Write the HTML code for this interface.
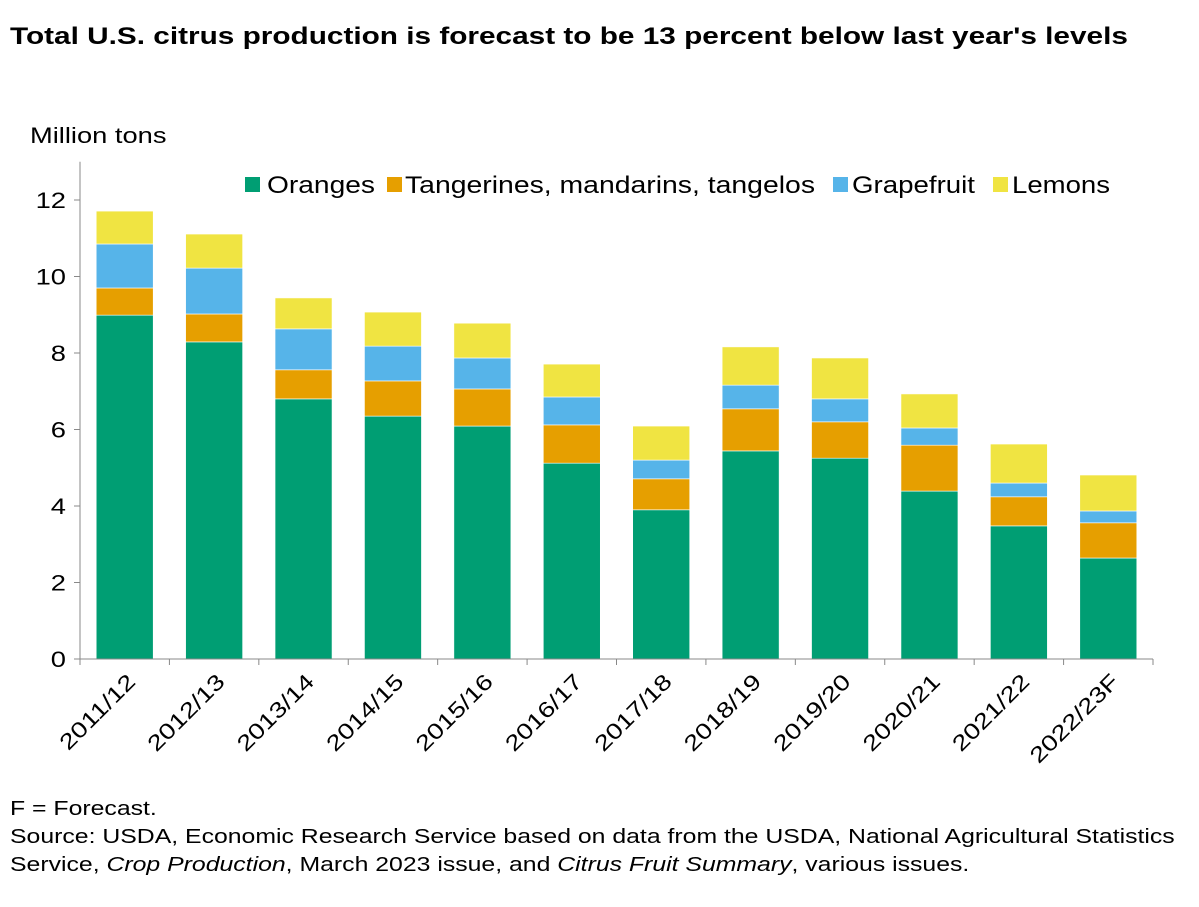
<!DOCTYPE html>
<html><head><meta charset="utf-8"><style>
body{margin:0;background:#fff;width:1199px;height:902px;overflow:hidden;font-family:"Liberation Sans",Arial,sans-serif}
svg text{font-family:"Liberation Sans",Arial,sans-serif}
</style></head><body>
<svg id="chart" width="1199" height="902">
<text class="st" x="10" y="44" font-size="24" font-weight="bold" fill="#000">Total U.S. citrus production is forecast to be 13 percent below last year's levels</text>
<text class="st" x="30" y="143" font-size="22" fill="#000">Million tons</text>
<g id="plot"></g>
<g id="legend"></g>
<text class="st" x="10" y="815" font-size="20">F = Forecast.</text>
<text class="st" x="10" y="843" font-size="20">Source: USDA, Economic Research Service based on data from the USDA, National Agricultural Statistics</text>
<text class="st" x="10" y="871" font-size="20">Service, <tspan font-style="italic">Crop Production</tspan>, March 2023 issue, and <tspan font-style="italic">Citrus Fruit Summary</tspan>, various issues.</text>
</svg>
<script>
const categories=["2011/12","2012/13","2013/14","2014/15","2015/16","2016/17","2017/18","2018/19","2019/20","2020/21","2021/22","2022/23F"];
const oranges=[8.99,8.29,6.80,6.35,6.09,5.12,3.90,5.44,5.25,4.39,3.48,2.64];
const tangerines=[0.71,0.73,0.76,0.92,0.97,1.00,0.81,1.10,0.95,1.20,0.76,0.92];
const grapefruit=[1.15,1.20,1.07,0.91,0.81,0.73,0.49,0.62,0.60,0.45,0.36,0.31];
const lemons=[0.86,0.89,0.81,0.89,0.91,0.86,0.89,1.00,1.07,0.89,1.02,0.94];
const yTicks=[0,2,4,6,8,10,12];
const seriesNames=["Oranges","Tangerines, mandarins, tangelos","Grapefruit","Lemons"];
const seriesColors=["#009e73","#e69f00","#56b4e9","#f0e442"];
const series=[oranges,tangerines,grapefruit,lemons];
const NS="http://www.w3.org/2000/svg";
const X0=80,X1=1153,Y0=659,PPU=38.25;
const step=(X1-X0)/categories.length;
const y=v=>Y0-v*PPU;
const xc=i=>X0+step*(i+0.5);
const plot=document.getElementById('plot');
function mk(tag,attrs,parent){const e=document.createElementNS(NS,tag);for(const k in attrs)e.setAttribute(k,attrs[k]);(parent||plot).appendChild(e);return e;}
yTicks.forEach(t=>{
 const tk=mk('line',{x1:X0-6,x2:X0,y1:y(t),y2:y(t),stroke:'#888'});
 
 
 const tx=mk('text',{x:X0-14,y:y(t)+8,'text-anchor':'end','font-size':22,'class':'st'});
 tx.textContent=t;
 
 
});
const bw=57;
categories.forEach((c,i)=>{
 let base=0;
 series.forEach((s,j)=>{
  const r=mk('rect',{x:xc(i)-bw/2,y:y(base+s[i]),width:bw,height:s[i]*PPU,fill:seriesColors[j],stroke:'#fff','stroke-width':0.6});
  
  
  base+=s[i];
 });
 const tk=mk('line',{x1:X0+step*i,x2:X0+step*i,y1:Y0,y2:Y0+6,stroke:'#888'});
 
 
 const tx=mk('text',{x:xc(i)+12,y:Y0+24,'text-anchor':'end','font-size':22,'class':'st',transform:`rotate(-45 ${xc(i)+12} ${Y0+24})`});
 tx.textContent=c;
 
 
});
const tkl=mk('line',{x1:X1,x2:X1,y1:Y0,y2:Y0+6,stroke:'#888'});


const ya=mk('line',{x1:X0,x2:X0,y1:y(13),y2:Y0,stroke:'#888'});


const xa=mk('line',{x1:X0,x2:X1,y1:Y0,y2:Y0,stroke:'#888'});


const lg=document.getElementById('legend');
const lx=[245,387,833,993];
const tx0=[267,405,852,1012];
const tw=[108,410,123,98];
seriesNames.forEach((n,j)=>{
 const r=mk('rect',{x:lx[j],y:177,width:15,height:15,fill:seriesColors[j]},lg);
 
 
 const t=mk('text',{x:tx0[j],y:193,'font-size':24,textLength:tw[j],lengthAdjust:'spacingAndGlyphs'},lg);
 t.textContent=n;
 
 
});
document.querySelectorAll('text.st').forEach(t=>{
 const w=t.getComputedTextLength();
 t.setAttribute('textLength',(w*1.24).toFixed(1));
 t.setAttribute('lengthAdjust','spacingAndGlyphs');
});
</script>
</body></html>
